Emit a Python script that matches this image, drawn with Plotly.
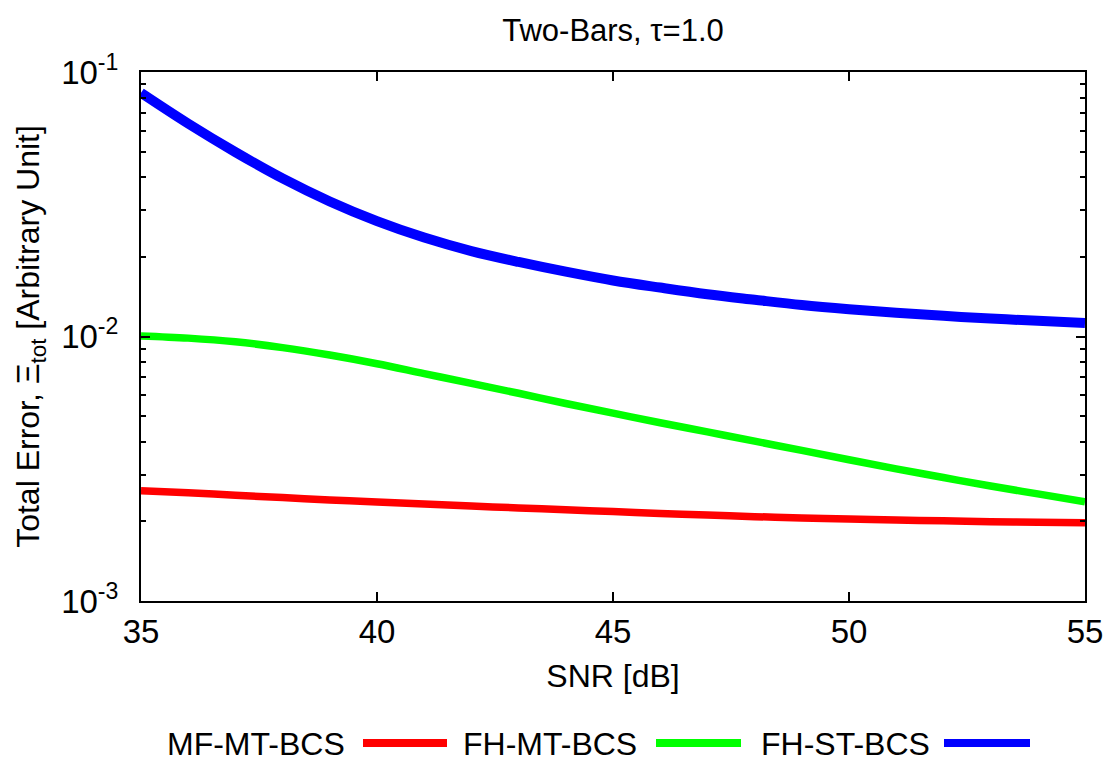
import plotly.graph_objects as go

# ---- data ----
snr = list(range(35, 56))
mf_mt_bcs = [0.002612, 0.002564, 0.002512, 0.002460, 0.002410, 0.002366, 0.002328,
             0.002286, 0.002249, 0.002213, 0.002178, 0.002143, 0.002113, 0.002084,
             0.002061, 0.002042, 0.002023, 0.002009, 0.001995, 0.001986, 0.001977]
fh_mt_bcs = [0.01005, 0.00986, 0.00955, 0.00908, 0.00851, 0.00789, 0.00724,
             0.00665, 0.00610, 0.00558, 0.00513, 0.00472, 0.00436, 0.00402,
             0.00371, 0.00342, 0.00316, 0.00293, 0.00272, 0.00254, 0.00237]
fh_st_bcs = [0.0834, 0.0638, 0.0498, 0.0396, 0.0324, 0.0273, 0.02366,
             0.02104, 0.01914, 0.01758, 0.01629, 0.01531, 0.01445, 0.01377,
             0.01315, 0.01268, 0.01230, 0.01197, 0.01169, 0.01146, 0.01125]

series_names = ["MF-MT-BCS", "FH-MT-BCS", "FH-ST-BCS"]
series_vals = [mf_mt_bcs, fh_mt_bcs, fh_st_bcs]
series_colors = ["#ff0000", "#00ff00", "#0000ff"]
series_widths = [7.5, 7.5, 10]

x_ticks = [35, 40, 45, 50, 55]
y_ticks = [0.001, 0.01, 0.1]
y_ticktext = ["10<sup>-3</sup>", "10<sup>-2</sup>", "10<sup>-1</sup>"]
y_minor = [k * 10.0 ** e for e in (-3, -2) for k in range(2, 10)]

FONT = "Liberation Sans, Arial, Helvetica, sans-serif"
W, H = 1117, 764
L, R, T, B = 141, 32, 72, 163


def px_x(px):
    return (px - L) / (W - L - R)


def px_y(py):
    return (H - B - py) / (H - T - B)


fig = go.Figure()
for name, vals, color, w in zip(series_names, series_vals, series_colors, series_widths):
    fig.add_trace(go.Scatter(x=snr, y=vals, mode="lines", name=name,
                             line=dict(color=color, width=w, shape="spline"),
                             showlegend=False))

# gnuplot-style legend: text, then line sample
legend_text_right = [347, 639, 932]
legend_line = [(363, 447), (656, 741), (944, 1030)]
legend_y = 743
for name, color, tx, (x0, x1) in zip(series_names, series_colors, legend_text_right, legend_line):
    fig.add_annotation(x=px_x(tx), y=px_y(legend_y + 1), xref="paper", yref="paper",
                       text=name, showarrow=False, xanchor="right", yanchor="middle",
                       font=dict(family=FONT, size=32, color="black"))
    fig.add_shape(type="line", xref="paper", yref="paper",
                  x0=px_x(x0), x1=px_x(x1), y0=px_y(legend_y), y1=px_y(legend_y),
                  line=dict(color=color, width=8))

fig.update_layout(
    width=W, height=H, autosize=False,
    margin=dict(l=L, r=R, t=T, b=B),
    paper_bgcolor="white", plot_bgcolor="white",
    font=dict(family=FONT, color="black"),
    title=dict(text="Two-Bars, τ=1.0", x=613 / W, xanchor="center",
               y=1 - 30 / H, yanchor="middle",
               font=dict(family=FONT, size=31, color="black")),
    xaxis=dict(range=[35, 55], tickmode="array", tickvals=x_ticks,
               ticks="inside", ticklen=9, tickwidth=1.5, tickcolor="black",
               showline=True, linewidth=2, linecolor="black", mirror="allticks",
               showgrid=False, zeroline=False,
               tickfont=dict(family=FONT, size=33),
               title=dict(text="SNR [dB]", font=dict(family=FONT, size=32), standoff=16)),
    yaxis=dict(type="log", range=[-3, -1], tickmode="array", tickvals=y_ticks,
               ticktext=y_ticktext,
               ticks="inside", ticklen=9, tickwidth=1.5, tickcolor="black",
               minor=dict(tickmode="array", tickvals=y_minor, ticks="inside",
                          ticklen=5, tickwidth=1.5, tickcolor="black", showgrid=False),
               showline=True, linewidth=2, linecolor="black", mirror="allticks",
               showgrid=False, zeroline=False, ticklabelstandoff=14,
               tickfont=dict(family=FONT, size=33),
               title=dict(text="Total Error, Ξ<sub>tot</sub> [Arbitrary Unit]",
                          font=dict(family=FONT, size=32), standoff=12)),
)

fig.write_html("out.html",
               config={"displayModeBar": False},
               post_script="document.body.style.margin='0';"
                           "document.body.style.overflow='hidden';")
